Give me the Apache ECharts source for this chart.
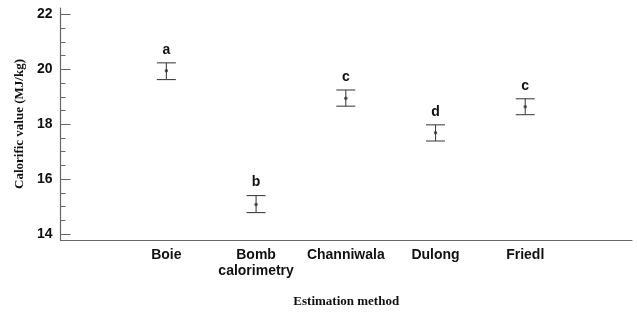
<!DOCTYPE html>
<html><head><meta charset="utf-8">
<script src="https://cdn.jsdelivr.net/npm/echarts@6/dist/echarts.min.js"></script>
<style>html,body{margin:0;padding:0;background:#fff}#c{width:637px;height:316px}</style>
</head><body><div id="c"></div>
<script>
const categories = ['Boie', 'Bomb\ncalorimetry', 'Channiwala', 'Dulong', 'Friedl'];
const means = [19.95, 15.07, 18.95, 17.69, 18.64];
const upper = [20.24, 15.40, 19.25, 17.98, 18.93];
const lower = [19.63, 14.78, 18.66, 17.39, 18.35];
const letters = ['a', 'b', 'c', 'd', 'c'];
const yMajor = [14, 16, 18, 20, 22];
const yMinor = [14.5, 15, 15.5, 16.5, 17, 17.5, 18.5, 19, 19.5, 20.5, 21, 21.5];

const xPos = categories.map((c, i) => i + 1);
const chart = echarts.init(document.getElementById('c'));
const yMin = 13.78, yMax = 22.24;
chart.setOption({
  animation: false,
  grid: {left: 60.5, right: 5, top: 8, bottom: 76},
  xAxis: {
    type: 'value', min: -0.18, max: 6.19,
    axisLine: {show: true, onZero: false, lineStyle: {color: '#666', width: 1.2}},
    axisTick: {show: false},
    splitLine: {show: false},
    axisLabel: {
      customValues: xPos, margin: 7,
      formatter: v => categories[Math.round(v) - 1] || '',
      fontFamily: 'Liberation Sans, Arial', fontWeight: 'bold', fontSize: 14, color: '#111', lineHeight: 16
    },
    name: 'Estimation method', nameLocation: 'middle', nameGap: 55,
    nameTextStyle: {fontFamily: 'Liberation Serif, Times New Roman', fontWeight: 'bold', fontSize: 13, color: '#111'}
  },
  yAxis: [{
    type: 'value', min: yMin, max: yMax,
    axisLine: {show: true, onZero: false, lineStyle: {color: '#666', width: 1.2}},
    axisTick: {show: true, inside: true, length: 10, customValues: yMajor, lineStyle: {color: '#666'}},
    splitLine: {show: false},
    axisLabel: {customValues: yMajor, margin: 8, fontFamily: 'Liberation Sans, Arial', fontWeight: 'bold', fontSize: 14, color: '#111'},
    name: 'Calorific value (MJ/kg)', nameLocation: 'middle', nameGap: 33, nameRotate: 90,
    nameTextStyle: {fontFamily: 'Liberation Serif, Times New Roman', fontWeight: 'bold', fontSize: 13, color: '#111'}
  }, {
    type: 'value', min: yMin, max: yMax, position: 'left', offset: 0,
    axisLine: {show: false, onZero: false},
    axisTick: {show: true, inside: true, length: 5, customValues: yMinor, lineStyle: {color: '#666'}},
    axisLabel: {show: false}, splitLine: {show: false}
  }],
  series: [{
    type: 'custom',
    data: xPos.map((x, i) => [x, lower[i], upper[i], letters[i]]),
    renderItem: function (params, api) {
      const x = api.value(0);
      const lo = api.coord([x, api.value(1)]);
      const hi = api.coord([x, api.value(2)]);
      const w = 9.5;
      const st = {stroke: '#444', lineWidth: 1.1};
      return {type: 'group', children: [
        {type: 'line', shape: {x1: hi[0], y1: hi[1], x2: lo[0], y2: lo[1]}, style: st},
        {type: 'line', shape: {x1: hi[0] - w, y1: hi[1], x2: hi[0] + w, y2: hi[1]}, style: st},
        {type: 'line', shape: {x1: lo[0] - w, y1: lo[1], x2: lo[0] + w, y2: lo[1]}, style: st},
        {type: 'text', x: hi[0], y: hi[1] - 13, style: {text: api.value(3), align: 'center', verticalAlign: 'middle', font: 'bold 14px "Liberation Sans", Arial', fill: '#111'}}
      ]};
    }
  }, {
    type: 'scatter',
    data: xPos.map((x, i) => [x, means[i]]),
    symbol: 'circle', symbolSize: 3.5,
    itemStyle: {color: '#333'}
  }]
});
</script></body></html>
